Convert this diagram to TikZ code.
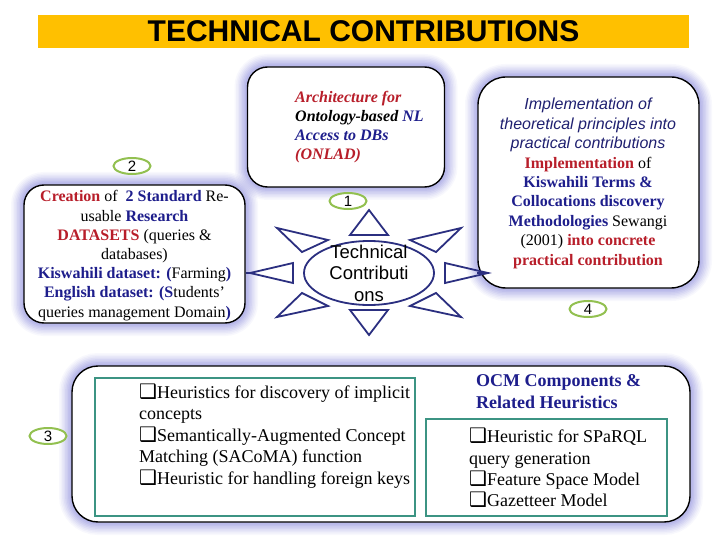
\documentclass[tikz,border=0pt]{standalone}
\usepackage{fontspec}
\setmainfont{Liberation Serif}
\newfontfamily\arial{Liberation Sans}
\newfontfamily\djv{DejaVu Sans}
\usetikzlibrary{shapes.geometric}
\definecolor{titlec}{HTML}{FFC000}
\definecolor{redc}{HTML}{B81E2A}
\definecolor{bluec}{HTML}{1E1E8C}
\definecolor{bluei}{HTML}{1F2070}
\definecolor{tealc}{HTML}{3C9483}
\definecolor{greenc}{HTML}{92C050}
\definecolor{sunc}{HTML}{2B2F80}
\definecolor{glowc}{HTML}{7474D4}
\newcommand{\qb}[1]{{\djv\fontsize{#1}{#1}\selectfont ❑}}
\begin{document}
\begin{tikzpicture}[x=1pt,y=-1pt,
  glowbox/.style={draw=black, line width=1.4pt, fill=white, inner sep=0pt,
    preaction={draw=glowc, line width=26pt, opacity=0.05},
    preaction={draw=glowc, line width=23pt, opacity=0.06},
    preaction={draw=glowc, line width=20pt, opacity=0.07},
    preaction={draw=glowc, line width=17pt, opacity=0.08},
    preaction={draw=glowc, line width=14pt, opacity=0.09},
    preaction={draw=glowc, line width=11pt, opacity=0.10},
    preaction={draw=glowc, line width=8pt, opacity=0.11},
    preaction={draw=glowc, line width=5pt, opacity=0.12}},
  innerbox/.style={draw=tealc, line width=2pt, fill=white, inner sep=0pt},
  lbl/.style={ellipse, draw=greenc, line width=2pt, fill=white, minimum width=37pt,
    minimum height=16pt, inner sep=0pt, font=\arial\fontsize{15}{15}\selectfont},
  sunline/.style={draw=sunc, line width=1.8pt, line join=miter},
  txt/.style={inner sep=0pt}
]
\useasboundingbox (0,0) rectangle (720,540);

% title
\node[fill=titlec, minimum width=651pt, minimum height=33pt, inner sep=0pt] (title) at (363.5,31.5)
  {\arial\bfseries\fontsize{30}{32}\selectfont TECHNICAL CONTRIBUTIONS};

% boxes
\node[glowbox, rounded corners=20pt, minimum width=197pt, minimum height=120pt] (arch) at (346,127) {};
\node[glowbox, rounded corners=20pt, minimum width=221pt, minimum height=138pt] (ds) at (134.5,254) {};
\node[glowbox, rounded corners=28pt, minimum width=221pt, minimum height=211pt] (impl) at (588.5,182.5) {};
\node[glowbox, rounded corners=26pt, minimum width=618pt, minimum height=156pt] (bot) at (381,444) {};
\node[innerbox, minimum width=320pt, minimum height=138pt] (inl) at (255,447) {};
\node[innerbox, minimum width=241pt, minimum height=97pt] (inr) at (546.5,467.5) {};

% texts
\node[txt, anchor=west, align=left, font=\fontsize{16}{19.2}\selectfont\bfseries\itshape] (archt) at (295,127)
  {\textcolor{redc}{Architecture for}\\ Ontology-based \textcolor{bluec}{NL}\\ \textcolor{bluec}{Access to DBs}\\ \textcolor{redc}{(ONLAD)}};

\node[txt, align=center, font=\fontsize{16}{19.2}\selectfont] (dst) at (134.5,255.5)
  {\textcolor{redc}{\textbf{Creation}} of \ \textcolor{bluec}{\textbf{2 Standard}} Re-\\
   usable \textcolor{bluec}{\textbf{Research}}\\
   \textcolor{redc}{\textbf{DATASETS}} (queries \&\\
   databases)\\
   \textcolor{bluec}{\textbf{Kiswahili dataset: (}}Farming\textcolor{bluec}{\textbf{)}}\\
   \textcolor{bluec}{\textbf{English dataset: (S}}tudents’\\
   queries management Domain\textcolor{bluec}{\textbf{)}}};

\node[txt, align=center, font=\fontsize{16}{19.4}\selectfont] (implt) at (588,183.5)
  {\textcolor{bluei}{\arial\itshape Implementation of}\\
   \textcolor{bluei}{\arial\itshape theoretical principles into}\\
   \textcolor{bluei}{\arial\itshape practical contributions}\\
   \textcolor{redc}{\textbf{Implementation}} of\\
   \textcolor{bluec}{\textbf{Kiswahili Terms \&}}\\
   \textcolor{bluec}{\textbf{Collocations discovery}}\\
   \textcolor{bluec}{\textbf{Methodologies}} Sewangi\\
   (2001) \textcolor{redc}{\textbf{into concrete}}\\
   \textcolor{redc}{\textbf{practical contribution}}};

\node[txt, anchor=west, align=left, font=\fontsize{18}{21.5}\selectfont] (inlt) at (139,436)
  {\qb{20}Heuristics for discovery of implicit\\
   concepts\\
   \qb{20}Semantically-Augmented Concept\\
   Matching (SACoMA) function\\
   \qb{20}Heuristic for handling foreign keys};

\node[txt, anchor=west, align=left, font=\fontsize{18}{22}\selectfont\bfseries, text=bluec] (ocm) at (476,392)
  {OCM Components \&\\ Related Heuristics};

\node[txt, anchor=west, align=left, font=\fontsize{18}{21.3}\selectfont] (inrt) at (469,468)
  {\qb{20}Heuristic for SPaRQL\\
   query generation\\
   \qb{20}Feature Space Model\\
   \qb{20}Gazetteer Model};

% sun
\node[ellipse, sunline, minimum width=130pt, minimum height=64pt, inner sep=0pt] (sun) at (369,273) {};
\draw[sunline] (369,210) -- (350,235) -- (388,235) -- cycle;
\draw[sunline] (369,335) -- (350,310) -- (388,310) -- cycle;
\coordinate (tipL) at (250,273);
\coordinate (tipR) at (488,273);
\draw[sunline] (tipL) -- (293,263) -- (293,283) -- cycle;
\draw[sunline] (tipR) -- (445,263) -- (445,283) -- cycle;
\draw[sunline] (277,228) -- (328,240) -- (302,252) -- cycle;
\draw[sunline] (461,228) -- (410,240) -- (436,252) -- cycle;
\draw[sunline] (277,317) -- (328,306) -- (302,293) -- cycle;
\draw[sunline] (461,317) -- (410,306) -- (436,293) -- cycle;
\node[txt, align=center, font=\arial\fontsize{18.5}{21.5}\selectfont] (sunt) at (369,273)
  {Technical\\ Contributi\\ ons};

% connectors
\draw[sunline] (ds.east |- tipL) -- (tipL);
\draw[sunline] (tipR) -- (tipR -| impl.west);

% labels
\node[lbl] (l1) at (348,201) {1};
\node[lbl] (l2) at (132,166) {2};
\node[lbl] (l3) at (48,436) {3};
\node[lbl] (l4) at (588,309) {4};
\end{tikzpicture}
\end{document}
